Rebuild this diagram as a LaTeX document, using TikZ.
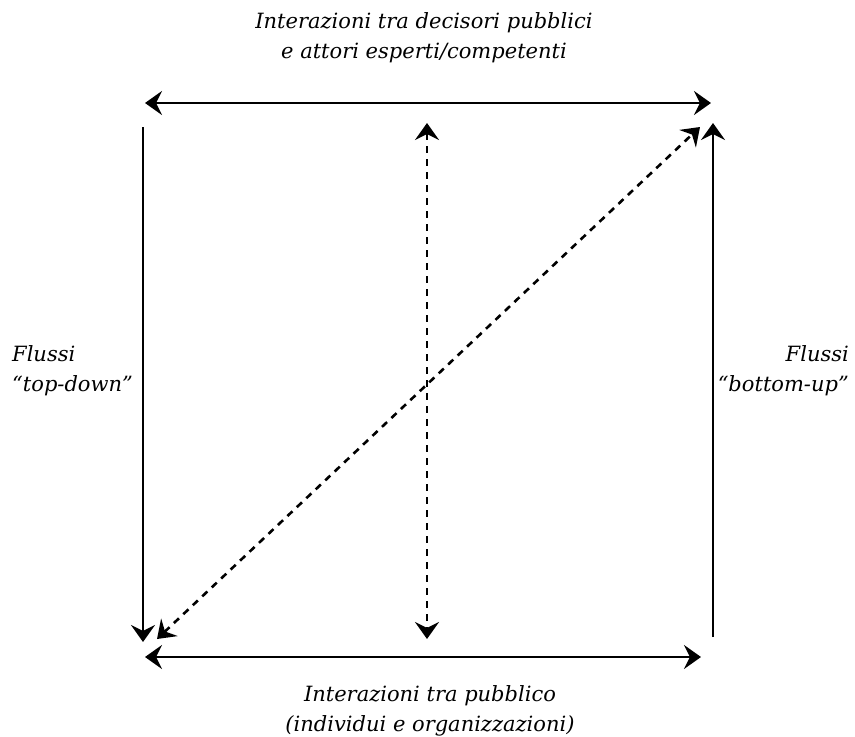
\documentclass[tikz,border=0pt]{standalone}
\usepackage{fontspec}
\setmainfont{DejaVu Serif}
\usetikzlibrary{arrows.meta}
\begin{document}
\begin{tikzpicture}[x=1pt,y=-1pt,
  tip/.tip={Stealth[length=17pt,width=24pt,inset=6pt]},
  flow/.style={line width=2.6pt,-tip},
  bothflow/.style={line width=2.6pt,tip-tip},
  dashflow/.style={bothflow,dash pattern=on 7pt off 6pt},
  lbl/.style={font=\fontsize{21}{30}\selectfont\itshape,inner sep=0pt}]
\useasboundingbox (0,0) rectangle (855,737);
% end points of the arrows
\coordinate (tl) at (145,103);
\coordinate (tr) at (711,103);
\coordinate (bl) at (145,657);
\coordinate (br) at (701,657);
\coordinate (ls) at (143,127);
\coordinate (le) at (143,642);
\coordinate (rs) at (713,637);
\coordinate (re) at (713,123);
\coordinate (ms) at (427,123);
\coordinate (me) at (427,639);
\coordinate (ds) at (157,639);
\coordinate (de) at (700,127);
% solid arrows
\draw[bothflow] (tl) -- (tr);
\draw[bothflow] (bl) -- (br);
\draw[flow] (ls) -- (le);
\draw[flow] (rs) -- (re);
% dashed arrows
\draw[dashflow] (ms) -- (me);
\draw[dashflow] (ds) -- (de);
% labels
\node[lbl,align=center] (top) at (424,38) {Interazioni tra decisori pubblici\\e attori esperti/competenti};
\node[lbl,align=center] (bot) at (430,711) {Interazioni tra pubblico\\(individui e organizzazioni)};
\node[lbl,align=left,anchor=west] (left) at (12,371) {Flussi\\“top-down”};
\node[lbl,align=right,anchor=east] (right) at (849,371) {Flussi\\“bottom-up”};
\end{tikzpicture}
\end{document}
